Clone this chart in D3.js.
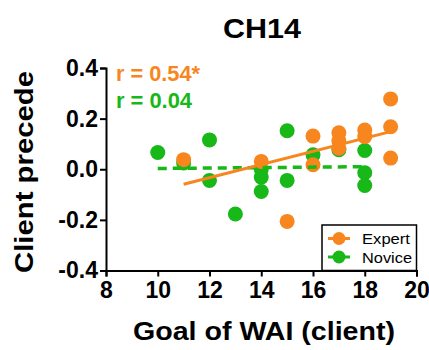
<!DOCTYPE html>
<html>
<head>
<meta charset="utf-8">
<script src="https://cdn.jsdelivr.net/npm/d3@7"></script>
<style>
  html, body { margin: 0; padding: 0; background: #fff; }
  svg { display: block; font-family: "Liberation Sans", Arial, sans-serif; }
</style>
</head>
<body>
<svg id="chart" width="429" height="350"></svg>
<script>
// CH14 scatter: client precede vs Goal of WAI (client), expert vs novice.

const expertX = [11, 14, 15, 16, 16, 17, 17, 17, 18, 18, 19, 19, 19];
const expertY = [0.038, 0.031, -0.206, 0.131, 0.018, 0.144, 0.112, 0.083, 0.155, 0.129, 0.278, 0.168, 0.044];

const noviceX = [10, 11, 12, 12, 13, 14, 14, 14, 15, 15, 16, 17, 18, 18, 18];
const noviceY = [0.066, 0.025, 0.116, -0.044, -0.177, -0.001, -0.031, -0.088, 0.152, -0.044, 0.057, 0.077, 0.074, -0.014, -0.064];

const xTicks = [8, 10, 12, 14, 16, 18, 20];
const yTicks = [-0.4, -0.2, 0.0, 0.2, 0.4];
const rLabels = ["r = 0.54*", "r = 0.04"];
const seriesNames = ["Expert", "Novice"];

const ORANGE = "#F7861F";
const GREEN = "#17B817";
const DOT_R = 7.5;
const FONT = "Liberation Sans, Arial, sans-serif";

const svg = d3.select("#chart");

const x = d3.scaleLinear().domain([8, 20]).range([106, 416.5]);
const y = d3.scaleLinear().domain([-0.4, 0.4]).range([270.5, 68]);

// Least-squares fit over the observed x range.
function fitLine(xs, ys) {
  const mx = d3.mean(xs), my = d3.mean(ys);
  let sxy = 0, sxx = 0;
  xs.forEach((v, i) => { sxy += (v - mx) * (ys[i] - my); sxx += (v - mx) ** 2; });
  const b = sxy / sxx;
  const [lo, hi] = d3.extent(xs);
  return [[lo, my + b * (lo - mx)], [hi, my + b * (hi - mx)]];
}

// Axes
const xAxis = svg.append("g")
  .attr("transform", `translate(0,${y(-0.4)})`)
  .call(d3.axisBottom(x).tickValues(xTicks).tickFormat(d3.format("d")).tickSize(6).tickPadding(5));
const yAxis = svg.append("g")
  .attr("transform", `translate(${x(8)},0)`)
  .call(d3.axisLeft(y).tickValues(yTicks).tickFormat(d3.format(".1f")).tickSize(6).tickPadding(2));

[xAxis, yAxis].forEach(a => {
  a.select(".domain").attr("stroke", "#000").attr("stroke-width", 2);
  a.selectAll(".tick line").attr("stroke", "#000").attr("stroke-width", 2);
  a.selectAll(".tick text")
    .attr("fill", "#000")
    .attr("font-size", 23)
    .attr("font-weight", "bold")
    .attr("font-family", FONT);
});
yAxis.selectAll(".tick text").text(d => d3.format(".1f")(d).replace("−", "-"));

// Points: novice underneath, expert on top
const plot = svg.append("g");
plot.selectAll(".nov").data(noviceX).join("circle")
  .attr("cx", d => x(d))
  .attr("cy", (d, i) => y(noviceY[i]))
  .attr("r", DOT_R)
  .attr("fill", GREEN);
plot.selectAll(".exp").data(expertX).join("circle")
  .attr("cx", d => x(d))
  .attr("cy", (d, i) => y(expertY[i]))
  .attr("r", DOT_R)
  .attr("fill", ORANGE);

// Fit lines
const line = d3.line().x(d => x(d[0])).y(d => y(d[1]));
plot.append("path")
  .attr("d", line(fitLine(noviceX, noviceY)))
  .attr("stroke", GREEN).attr("stroke-width", 3.5)
  .attr("stroke-dasharray", "9,6")
  .attr("fill", "none");
plot.append("path")
  .attr("d", line(fitLine(expertX, expertY)))
  .attr("stroke", ORANGE).attr("stroke-width", 3)
  .attr("fill", "none");

// Correlation labels
svg.append("text")
  .attr("x", 116).attr("y", 81)
  .attr("font-size", 22).attr("font-weight", "bold")
  .attr("fill", ORANGE)
  .attr("textLength", 84).attr("lengthAdjust", "spacingAndGlyphs")
  .text(rLabels[0]);
svg.append("text")
  .attr("x", 116).attr("y", 108)
  .attr("font-size", 22).attr("font-weight", "bold")
  .attr("fill", GREEN)
  .attr("textLength", 76).attr("lengthAdjust", "spacingAndGlyphs")
  .text(rLabels[1]);

// Legend
const lg = svg.append("g");
lg.append("rect")
  .attr("x", 322).attr("y", 225)
  .attr("width", 94.5).attr("height", 45.5)
  .attr("fill", "#fff").attr("stroke", "#000").attr("stroke-width", 1.5);
[ORANGE, GREEN].forEach((c, i) => {
  const cy = 238.5 + i * 18.5;
  lg.append("line")
    .attr("x1", 328).attr("x2", 350).attr("y1", cy).attr("y2", cy)
    .attr("stroke", c).attr("stroke-width", 3);
  lg.append("circle").attr("cx", 339).attr("cy", cy).attr("r", 6.5).attr("fill", c);
  lg.append("text")
    .attr("x", 362).attr("y", cy + 5.5)
    .attr("font-size", 15.5)
    .attr("fill", "#000")
    .attr("textLength", i === 0 ? 48 : 50).attr("lengthAdjust", "spacingAndGlyphs")
    .text(seriesNames[i]);
});

// Title and axis titles
svg.append("text")
  .attr("x", 262).attr("y", 38)
  .attr("text-anchor", "middle")
  .attr("font-size", 28).attr("font-weight", "bold")
  .attr("textLength", 78).attr("lengthAdjust", "spacingAndGlyphs")
  .text("CH14");
svg.append("text")
  .attr("x", 264).attr("y", 340)
  .attr("text-anchor", "middle")
  .attr("font-size", 25).attr("font-weight", "bold")
  .attr("textLength", 262).attr("lengthAdjust", "spacingAndGlyphs")
  .text("Goal of WAI (client)");
svg.append("text")
  .attr("transform", "translate(33,172) rotate(-90)")
  .attr("text-anchor", "middle")
  .attr("font-size", 25).attr("font-weight", "bold")
  .attr("textLength", 202).attr("lengthAdjust", "spacingAndGlyphs")
  .text("Client precede");
</script>
</body>
</html>
